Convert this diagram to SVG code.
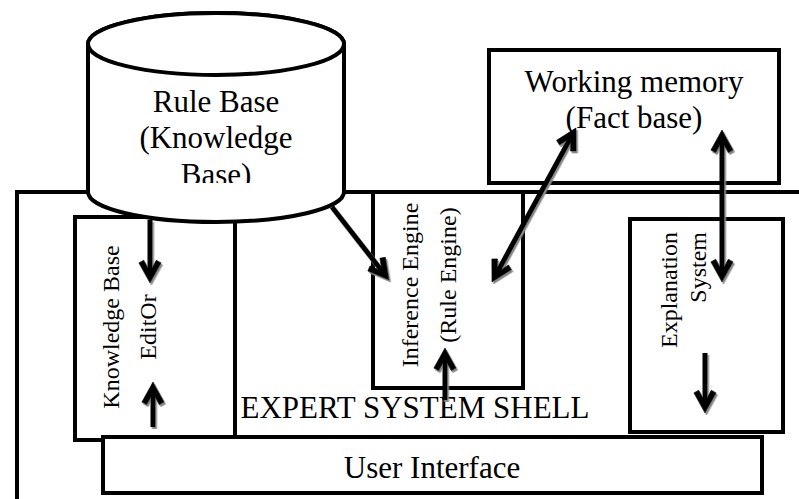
<svg xmlns="http://www.w3.org/2000/svg" width="799" height="499" viewBox="0 0 799 499">
<style>
.box{fill:#fff;stroke:#000;stroke-width:4}
.ln{fill:none;stroke:#000;stroke-width:4}
.arr{fill:none;stroke:#000;stroke-width:5;filter:url(#sh)}
.t{font-family:"Liberation Serif","Times New Roman",serif;font-size:31px;fill:#000}
.tv{font-family:"Liberation Serif","Times New Roman",serif;font-size:24px;fill:#000}
</style>
<defs>
<filter id="sh" filterUnits="userSpaceOnUse" x="0" y="0" width="799" height="499">
<feDropShadow dx="1.5" dy="2" stdDeviation="0.6" flood-color="#888"/>
</filter>
<marker id="ah" markerUnits="userSpaceOnUse" viewBox="-26 -14 32 28" refX="-6" refY="0" markerWidth="32" markerHeight="28" orient="auto-start-reverse">
<path d="M0,0 L-20.1,-11.1 L-22.8,-6.3 L-11.3,0 L-22.8,6.3 L-20.1,11.1 Z" fill="#000" stroke="#000" stroke-width="0.6" stroke-linejoin="round"/>
</marker>
<clipPath id="cylclip"><rect x="80" y="0" width="280" height="183"/></clipPath>
</defs>
<rect width="799" height="499" fill="#fff"/>
<g id="shell">
<polyline class="ln" points="17,505 17,192 805,192"/>
<text class="t" x="415" y="418" text-anchor="middle">EXPERT SYSTEM SHELL</text>
</g>
<g id="kb-editor">
<rect class="box" x="75" y="217" width="160" height="223"/>
<text class="tv" transform="translate(119,327) rotate(-90)" text-anchor="middle">Knowledge Base</text>
<text class="tv" transform="translate(156,327) rotate(-90)" text-anchor="middle">EditOr</text>
</g>
<g id="inference-engine">
<rect class="box" x="373" y="192" width="150" height="196"/>
<text class="tv" transform="translate(418,285) rotate(-90)" text-anchor="middle">Inference Engine</text>
<text class="tv" transform="translate(456,275) rotate(-90)" text-anchor="middle">(Rule Engine)</text>
</g>
<g id="explanation-system">
<rect class="box" x="630" y="219" width="153" height="213"/>
<text class="tv" transform="translate(677,232) rotate(-90)" text-anchor="end">Explanation</text>
<text class="tv" transform="translate(706,232) rotate(-90)" text-anchor="end">System</text>
</g>
<g id="working-memory">
<rect class="box" x="489" y="50" width="290" height="133"/>
<text class="t" x="634" y="92" text-anchor="middle">Working memory</text>
<text class="t" x="634" y="128" text-anchor="middle">(Fact base)</text>
</g>
<g id="rule-base">
<path class="box" d="M88,44 L88,192 A128,30 0 0 0 344,192 L344,44 A128,31 0 0 0 88,44 Z"/>
<ellipse class="box" cx="216" cy="44" rx="128" ry="31"/>
<g clip-path="url(#cylclip)">
<text class="t" x="216" y="111.5" text-anchor="middle">Rule Base</text>
<text class="t" x="216" y="148" text-anchor="middle">(Knowledge</text>
<text class="t" x="216" y="184.5" text-anchor="middle">Base)</text>
</g>
</g>
<g id="user-interface">
<rect class="box" x="103" y="437" width="659" height="56"/>
<text class="t" x="432" y="478" text-anchor="middle">User Interface</text>
</g>
<g id="connectors">
<path class="arr" d="M150,220 L150,277" marker-end="url(#ah)"/>
<path class="arr" d="M153,427 L153,388" marker-end="url(#ah)"/>
<path class="arr" d="M332,207 L385.3,275.3" marker-end="url(#ah)"/>
<path class="arr" d="M494.9,276.7 L573.1,133.3" marker-start="url(#ah)" marker-end="url(#ah)"/>
<path class="arr" d="M445,400 L445,354" marker-end="url(#ah)"/>
<path class="arr" d="M722,276 L722,136" marker-start="url(#ah)" marker-end="url(#ah)"/>
<path class="arr" d="M705,353 L705,407" marker-end="url(#ah)"/>
</g>
</svg>
